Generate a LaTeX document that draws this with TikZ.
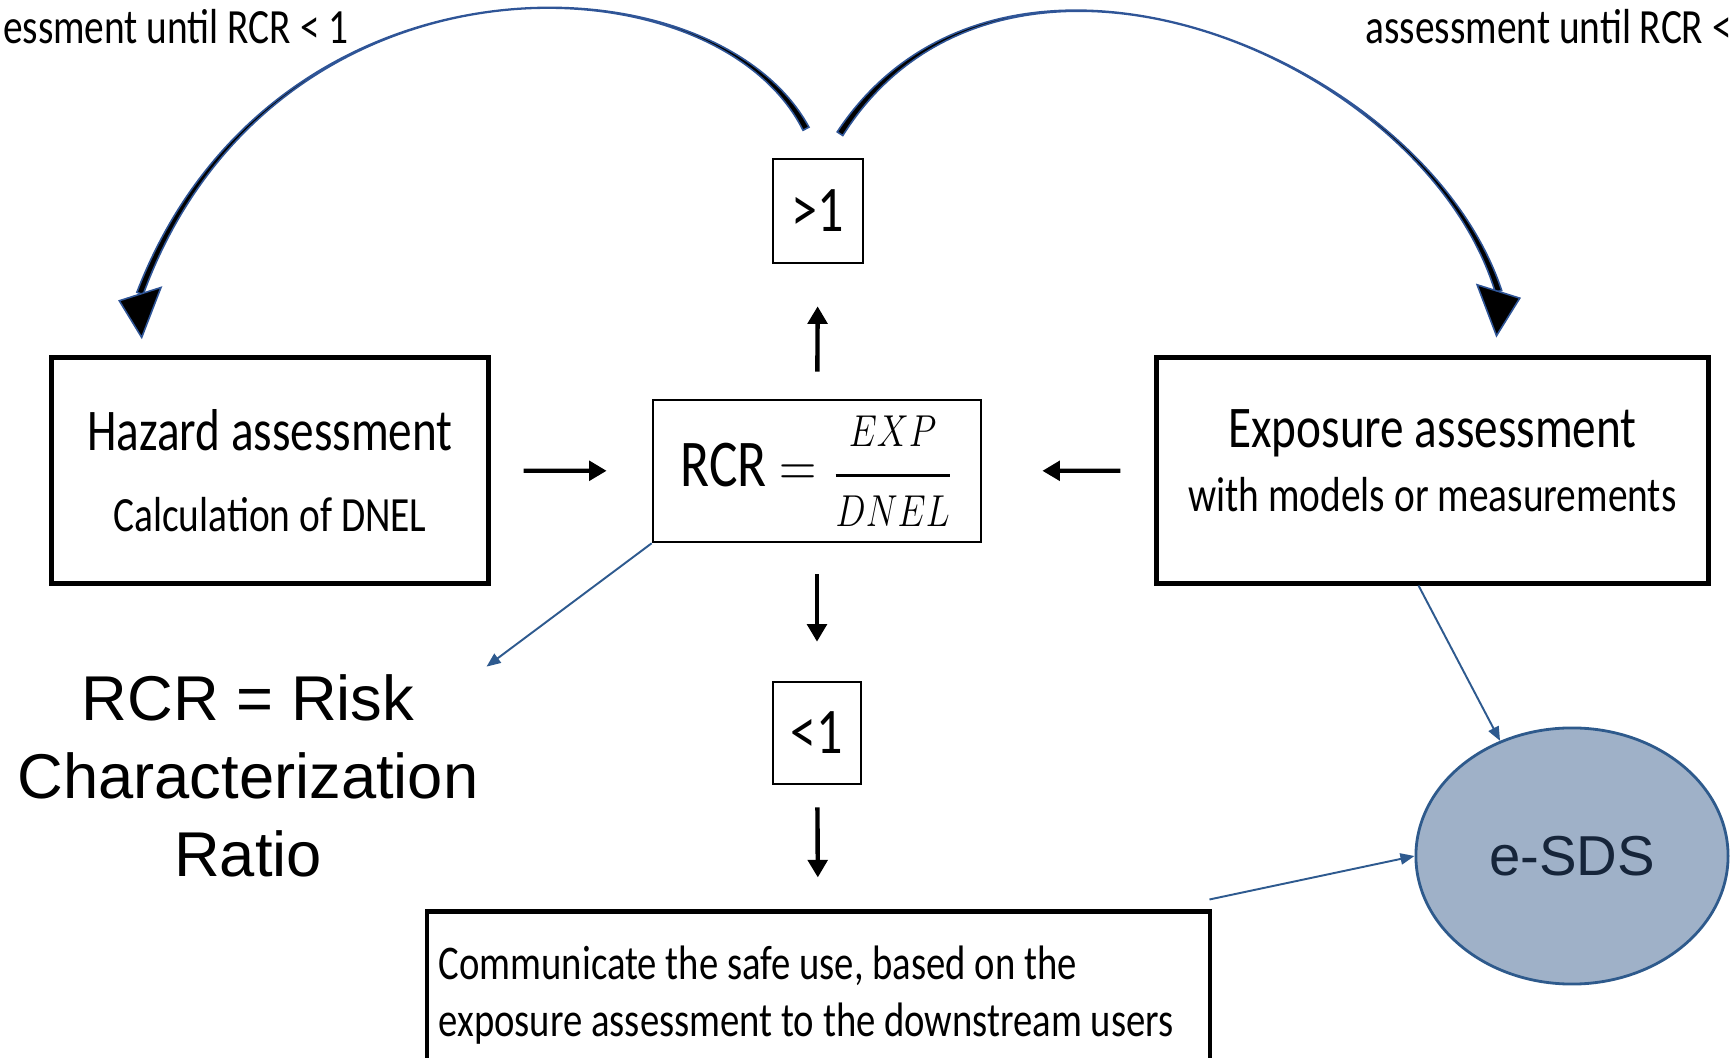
\documentclass[tikz,border=0pt]{standalone}
\usepackage{amsmath}
\usepackage{fontspec}
\usepackage{xcolor}
\usepackage{graphicx}
\usepackage{tikz}
\usetikzlibrary{arrows.meta,positioning,calc,shapes.geometric}

\newfontfamily\narrowfont{Carlito}[FakeStretch=0.8]
\newfontfamily\arialfont{Liberation Sans}

\definecolor{curveblue}{HTML}{2F5597}
\definecolor{lineblue}{HTML}{2E5A8F}
\definecolor{sdsfill}{HTML}{9FB1C8}
\definecolor{sdsedge}{HTML}{2E5A8C}
\definecolor{sdstext}{HTML}{16253A}

\begin{document}
\begin{tikzpicture}[x=0.01cm, y=-0.01cm, >={Triangle[length=5pt,width=5.5pt]}, semithick]
	\tikzstyle{bigbox}=[draw=black, line width=1.4pt, minimum height=2.25cm, align=center, font=\narrowfont\fontsize{16.8}{20}\selectfont]
	\tikzstyle{smallbox}=[draw=black, line width=0.7pt, inner sep=0pt, font=\narrowfont\fontsize{18.5}{22}\selectfont]
	\tikzstyle{shortarrow}=[->, line width=1.25pt]
	\tikzstyle{bluearrow}=[-{Triangle[length=4pt,width=3.2pt]}, draw=lineblue, line width=0.55pt]
	\tikzstyle{bigcurve}=[fill=black, draw=curveblue, line width=0.45pt]
	\useasboundingbox (0,0) rectangle (1732,1058);

	\node[bigbox, minimum width=4.36cm] (haz) at (270,470.5) {Hazard assessment\\[3pt]{\fontsize{14}{17}\selectfont Calculation of DNEL}};
	\node[bigbox, minimum width=5.51cm] (expo) at (1432.5,470.5) {Exposure assessment\\[-2pt]{\fontsize{14}{17}\selectfont with models or measurements\rule[-5.7pt]{0pt}{0pt}}};
	\node[draw=black, line width=0.7pt, minimum width=3.28cm, minimum height=1.42cm] (rcr) at (817,471)
		{{\narrowfont\fontsize{19}{22}\selectfont RCR}\hspace{3.5pt}\scalebox{0.85}[1]{\fontsize{17.28}{20}\selectfont$=$}\hspace{4.5pt}\scalebox{0.85}[1.06]{\fontsize{12}{15}\selectfont$\genfrac{}{}{0.8pt}{0}{EXP\rule[-5pt]{0pt}{5pt}}{\rule{0pt}{11pt}DNEL}$}\hspace{11pt}};
	\node[smallbox, minimum width=0.9cm, minimum height=1.04cm] (gt) at (818,211) {>1};
	\node[smallbox, minimum width=0.88cm, minimum height=1.02cm] (lt) at (817,733) {<1};
	\node[draw=black, line width=1.4pt, minimum width=7.79cm, minimum height=1.66cm, align=left, font=\narrowfont\fontsize{13.75}{16.2}\selectfont] (comm) at (818.5,995)
		{Communicate the safe use, based on the\\exposure assessment to the downstream users\hspace*{7pt}};
	\node[ellipse, draw=sdsedge, fill=sdsfill, line width=0.8pt, minimum width=3.12cm, minimum height=2.56cm, inner sep=0pt, text=sdstext, font=\arialfont\fontsize{16}{19}\selectfont] (esds) at (1572,856) {e-SDS};
	\node[align=center, inner sep=2pt, font=\arialfont\fontsize{18}{22.2}\selectfont] (ratio) at (248,776) {RCR = Risk\\Characterization\\Ratio};
	\node[anchor=west, inner sep=0pt, font=\narrowfont\fontsize{14}{17}\selectfont] (toplft) at (2,27) {essment until RCR < 1};
	\node[anchor=east, inner sep=0pt, font=\narrowfont\fontsize{14}{17}\selectfont] (toprgt) at (1733,27) {assessment until RCR <};

	\path
	(haz) edge[shortarrow, shorten <=0.33cm, shorten >=0.45cm] (rcr)
	(expo) edge[shortarrow, shorten <=0.34cm, shorten >=0.6cm] (rcr)
	(rcr) edge[shortarrow, shorten <=0.27cm, shorten >=0.42cm] (gt)
	(rcr) edge[shortarrow, shorten <=0.31cm, shorten >=0.39cm] (lt)
	(lt) edge[shortarrow, shorten <=0.22cm, shorten >=0.32cm] (comm);

	\draw[bluearrow] (rcr.south west) -- (ratio.north east);
	\draw[bluearrow] ($(expo.south)+(-14,0)$) -- (esds.122);
	\draw[bluearrow] ($(comm.north east)+(-3,-10)$) -- (esds.west);

	% loop back to hazard assessment
	\coordinate (ls) at ($(gt.north)+(-12,-29)$);
	\coordinate (le) at ($(haz.north)+(-130,-62)$);
	\coordinate (lc1) at (714,-48);
	\coordinate (lc2) at (273,-61);
	\path[bigcurve] ($(ls)!0.95pt!90:(lc1)$) .. controls (lc1) and (lc2) .. ($(le)!0.95pt!-90:(lc2)$) -- ($(le)!0.95pt!90:(lc2)$) .. controls (lc2) and (lc1) .. ($(ls)!0.95pt!-90:(lc1)$) -- cycle;
	\path[bigcurve] ($(le)+(1.7,44)$) -- ($(le)+(-20.7,7.3)$) -- ($(le)+(21,-6)$) -- cycle;

	% loop back to exposure assessment
	\coordinate (rs) at ($(gt.north)+(22,-24)$);
	\coordinate (re) at ($(expo.north)+(66,-64)$);
	\coordinate (rc1) at (1002,-117);
	\coordinate (rc2) at (1424,56);
	\path[bigcurve] ($(rs)!0.95pt!90:(rc1)$) .. controls (rc1) and (rc2) .. ($(re)!0.95pt!-90:(rc2)$) -- ($(re)!0.95pt!90:(rc2)$) .. controls (rc2) and (rc1) .. ($(rs)!0.95pt!-90:(rc1)$) -- cycle;
	\path[bigcurve] ($(re)+(-2,44.3)$) -- ($(re)+(-21.4,-6.7)$) -- ($(re)+(21.3,6.7)$) -- cycle;
\end{tikzpicture}
\end{document}
